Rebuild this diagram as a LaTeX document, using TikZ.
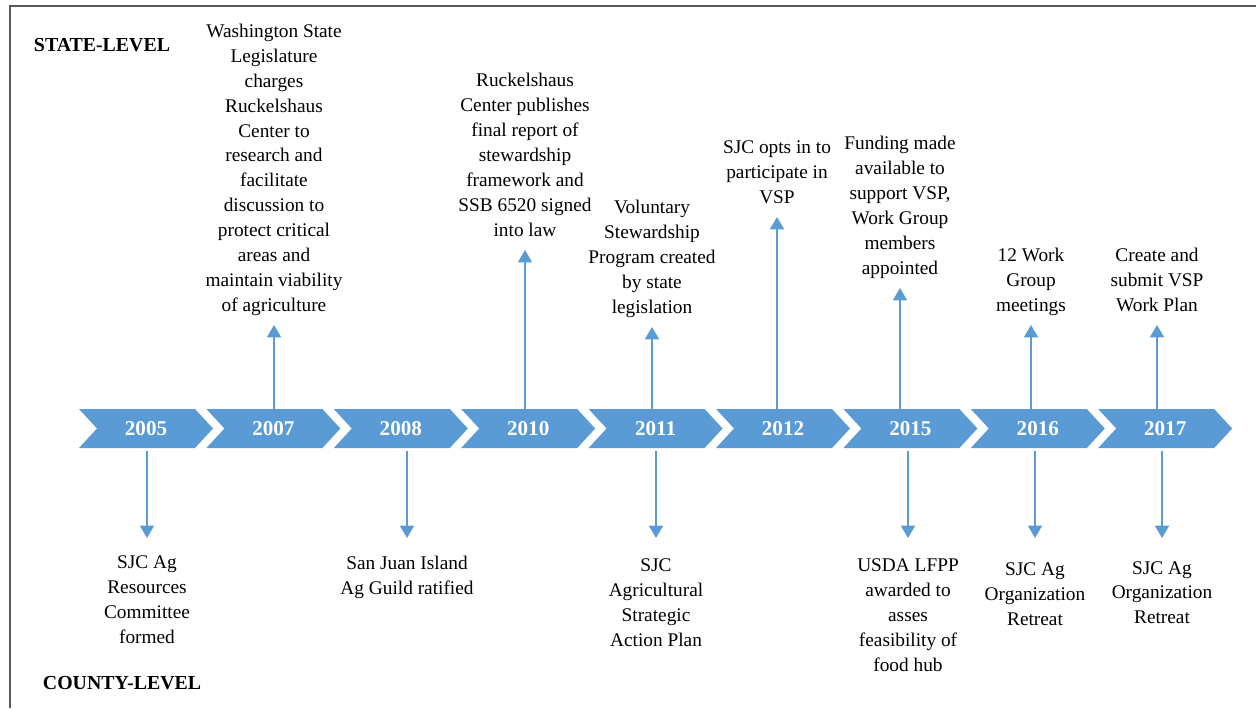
\documentclass[tikz,border=0pt]{standalone}
\usepackage{fontspec}
\setmainfont{Liberation Serif}
\usetikzlibrary{positioning,arrows.meta}
\definecolor{tlblue}{HTML}{5B9BD5}
\definecolor{framegray}{HTML}{595959}

\begin{document}
\begin{tikzpicture}[x=0.02cm, y=-0.02cm,
    year/.style={
        inner sep=0pt,
        minimum height=0.78cm,
        text=white,
        font=\fontsize{12}{14}\selectfont\bfseries
        },
    event/.style={
    % plain centred text
        align=center,
        inner xsep=0pt,
        font=\fontsize{11}{14.2}\selectfont
        },
    up event/.style={event, anchor=south, text depth=0pt, inner ysep=7.4pt},
    down event/.style={event, anchor=north, inner ysep=#1},
    down event/.default=10pt,
    level/.style={font=\fontsize{11.3}{14}\selectfont\bfseries},
    arr/.style={-{Triangle[width=8pt,length=7pt]}, draw=tlblue, line width=0.75pt}]

    \useasboundingbox (0,0) rectangle (1256,708);
    \draw[framegray, line width=1.1pt] (1256,6) -- (10,6) -- (10,708);

    % the chevrons
    \foreach \yr [count=\i from 0] in {2005,2007,2008,2010,2011,2012,2015,2016,2017} {
        \fill[tlblue] (79+127.4*\i,409) -- ++(116,0) -- ++(18,19.5) -- ++(-18,19.5)
            -- ++(-116,0) -- ++(18,-19.5) -- cycle;
        \node (y\yr) [year] at (146+127.4*\i,428.5) {\yr};
    }

    \node (state_lvl) [level] at (102,45) {STATE-LEVEL};
    \node (county_lvl) [level] at (122,683) {COUNTY-LEVEL};

    \node (ev_2007) [up event] at (274,325) {Washington State\\Legislature\\charges\\Ruckelshaus\\Center to\\research and\\facilitate\\discussion to\\protect critical\\areas and\\maintain viability\\of agriculture};
    \node (ev_2010) [up event] at (525,250) {Ruckelshaus\\Center publishes\\final report of\\stewardship\\framework and\\SSB 6520 signed\\into law};
    \node (ev_2011) [up event] at (652,327) {Voluntary\\Stewardship\\Program created\\by state\\legislation};
    \node (ev_2012) [up event] at (777,217) {SJC opts in to\\participate in\\VSP};
    \node (ev_2015) [up event] at (900,288) {Funding made\\available to\\support VSP,\\Work Group\\members\\appointed};
    \node (ev_2016) [up event] at (1031,325) {12 Work\\Group\\meetings};
    \node (ev_2017) [up event] at (1157,325) {Create and\\submit VSP\\Work Plan};

    \node (cty_2005) [down event] at (147,538) {SJC Ag\\Resources\\Committee\\formed};
    \node (cty_2008) [down event] at (407,538) {San Juan Island\\Ag Guild ratified};
    \node (cty_2011) [down event=11.5pt] at (656,538) {SJC\\Agricultural\\Strategic\\Action Plan};
    \node (cty_2015) [down event=11.5pt] at (908,538) {USDA LFPP\\awarded to\\asses\\feasibility of\\food hub};
    \node (cty_2016) [down event=14pt] at (1035,538) {SJC Ag\\Organization\\Retreat};
    \node (cty_2017) [down event=13pt] at (1162,538) {SJC Ag\\Organization\\Retreat};

    \foreach \yr in {2007,2010,2011,2012,2015,2016,2017}
        \path (y\yr.north -| ev_\yr.south) edge[arr] (ev_\yr.south);
    \foreach \yr in {2005,2008,2011,2015,2016,2017}
        \path (y\yr.south -| cty_\yr.north) edge[arr, shorten <=1.5pt] (cty_\yr.north);
\end{tikzpicture}
\end{document}
